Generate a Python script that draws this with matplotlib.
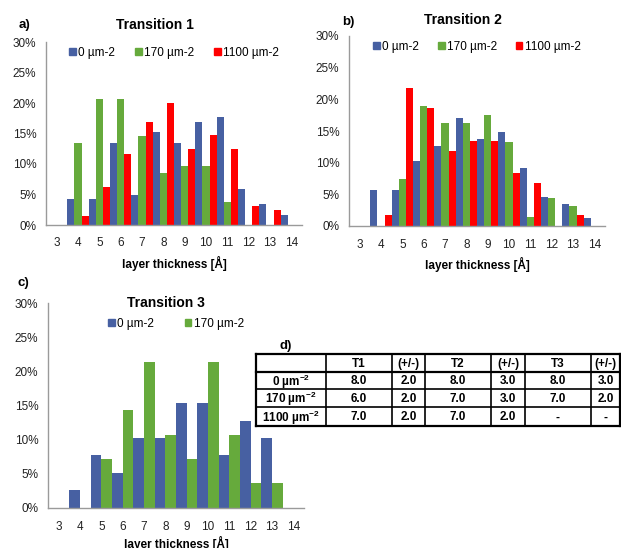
import matplotlib
matplotlib.use('Agg')
import matplotlib.pyplot as plt
from matplotlib.patches import Patch
from matplotlib.lines import Line2D

plt.rcParams['font.family'] = ['Liberation Sans', 'DejaVu Sans']
plt.rcParams['mathtext.fontset'] = 'custom'
plt.rcParams['mathtext.rm'] = 'Liberation Sans'
plt.rcParams['mathtext.bf'] = 'Liberation Sans:bold'

# 데이터 (percent per thickness bin)
thickness = list(range(3, 15))
t1_0 = [0, 4.2, 4.2, 13.5, 5.0, 15.2, 13.5, 16.9, 17.7, 5.9, 3.4, 1.6]
t1_170 = [0, 13.4, 20.7, 20.7, 14.6, 8.6, 9.7, 9.7, 3.8, 0, 0, 0]
t1_1100 = [0, 1.5, 6.2, 11.7, 16.9, 20.0, 12.4, 14.8, 12.4, 3.1, 2.4, 0]

t2_0 = [0, 5.75, 5.75, 10.2, 12.6, 17.0, 13.7, 14.8, 9.2, 4.6, 3.5, 1.2]
t2_170 = [0, 0, 7.4, 19.0, 16.2, 16.2, 17.6, 13.2, 1.5, 4.5, 3.1, 0]
t2_1100 = [0, 1.8, 21.8, 18.6, 11.8, 13.5, 13.5, 8.4, 6.75, 0, 1.8, 0]

t3_0 = [0, 2.6, 7.7, 5.1, 10.3, 10.3, 15.4, 15.4, 7.7, 12.8, 10.3, 0]
t3_170 = [0, 0, 7.1, 14.3, 21.4, 10.7, 7.1, 21.4, 10.7, 3.6, 3.6, 0]

labels = ['0 µm-2', '170 µm-2', '1100 µm-2']

# table d)
tbl_header = ['', 'T1', '(+/-)', 'T2', '(+/-)', 'T3', '(+/-)']
tbl_rows = [r'0 µm$^{\mathbf{-2}}$', r'170 µm$^{\mathbf{-2}}$', r'1100 µm$^{\mathbf{-2}}$']
tbl_values = [
    ['8.0', '2.0', '8.0', '3.0', '8.0', '3.0'],
    ['6.0', '2.0', '7.0', '3.0', '7.0', '2.0'],
    ['7.0', '2.0', '7.0', '2.0', '-', '-'],
]

BLUE, GREEN, RED = '#4760A2', '#66AA3C', '#FF0000'
W, H = 621, 548
fig = plt.figure(figsize=(W / 100, H / 100), dpi=100)


def px_axes(left, right, top, bottom):
    return fig.add_axes([left / W, 1 - bottom / H, (right - left) / W, (bottom - top) / H])


def draw_panel(ax, series, colors, names, legend_y, colspace, labelpad=5):
    n = len(series)
    width = 1.0 / n
    pos = range(len(thickness))
    for i, (vals, c) in enumerate(zip(series, colors)):
        off = (i - (n - 1) / 2) * width
        ax.bar([p + off for p in pos], vals, width=width, color=c, label=names[i])
    ax.set_xlim(-0.5, len(thickness) - 0.5)
    ax.set_ylim(0, 30)
    ax.set_xticks(list(pos))
    ax.set_xticklabels([str(t) for t in thickness])
    ax.set_yticks(range(0, 31, 5))
    ax.set_yticklabels([f'{v}%' for v in range(0, 31, 5)])
    ax.tick_params(length=0, labelsize=8.5, colors='#222222')
    ax.tick_params(axis='x', pad=9)
    ax.tick_params(axis='y', pad=7)
    for s in ('top', 'right'):
        ax.spines[s].set_visible(False)
    for s in ('left', 'bottom'):
        ax.spines[s].set_color('#9A9A9A')
        ax.spines[s].set_linewidth(1.0)
    ax.set_xlabel('layer thickness [Å]', fontsize=8.5, fontweight='bold', labelpad=labelpad)
    handles = [Patch(color=c) for c in colors]
    ax.legend(handles, names, loc='upper center', bbox_to_anchor=(0.5, legend_y),
              ncol=n, frameon=False, fontsize=8.5, handlelength=0.55, handleheight=0.55,
              handletextpad=0.2, columnspacing=colspace, borderaxespad=0)


ax_a = px_axes(46, 302, 42, 225)
draw_panel(ax_a, [t1_0, t1_170, t1_1100], [BLUE, GREEN, RED], labels, 1.0, 1.7)
ax_b = px_axes(349, 605, 36, 226)
draw_panel(ax_b, [t2_0, t2_170, t2_1100], [BLUE, GREEN, RED], labels, 1.0, 1.6)
ax_c = px_axes(48, 304, 303, 508)
draw_panel(ax_c, [t3_0, t3_170], [BLUE, GREEN], labels[:2], 0.95, 2.6, labelpad=2.5)

# 제목 및 패널 라벨
def ftxt(x, y, s, **kw):
    fig.text(x / W, 1 - y / H, s, va='center', **kw)

ftxt(155, 25, 'Transition 1', ha='center', fontsize=10, fontweight='bold')
ftxt(463, 20, 'Transition 2', ha='center', fontsize=10, fontweight='bold')
ftxt(166, 303, 'Transition 3', ha='center', fontsize=10, fontweight='bold')
ftxt(19, 25, 'a)', ha='left', fontsize=9.5, fontweight='bold')
ftxt(342, 22, 'b)', ha='left', fontsize=9.5, fontweight='bold')
ftxt(18, 283, 'c)', ha='left', fontsize=9.5, fontweight='bold')
ftxt(280, 346, 'd)', ha='left', fontsize=9.5, fontweight='bold')

# 표 그리기
col_x = [256, 326, 392, 425, 491, 525, 591, 620]
row_y = [354, 372, 389, 407, 426]
tax = fig.add_axes([0, 0, 1, 1])
tax.set_xlim(0, W)
tax.set_ylim(H, 0)
tax.axis('off')
for i, y in enumerate(row_y):
    lw = 1.6 if i in (0, 1, len(row_y) - 1) else 1.2
    tax.add_line(Line2D([col_x[0], col_x[-1]], [y, y], color='black', lw=lw))
for i, x in enumerate(col_x):
    lw = 1.6 if i in (0, len(col_x) - 1) else 1.2
    tax.add_line(Line2D([x, x], [row_y[0], row_y[-1]], color='black', lw=lw))
cells = [tbl_header] + [[r] + v for r, v in zip(tbl_rows, tbl_values)]
for ri, row in enumerate(cells):
    yc = (row_y[ri] + row_y[ri + 1]) / 2 + 1
    for ci, s in enumerate(row):
        xc = (col_x[ci] + col_x[ci + 1]) / 2
        tax.text(xc, yc, s, ha='center', va='center', fontsize=8.5, fontweight='bold')

plt.savefig('out.png', dpi=100)
plt.close()
